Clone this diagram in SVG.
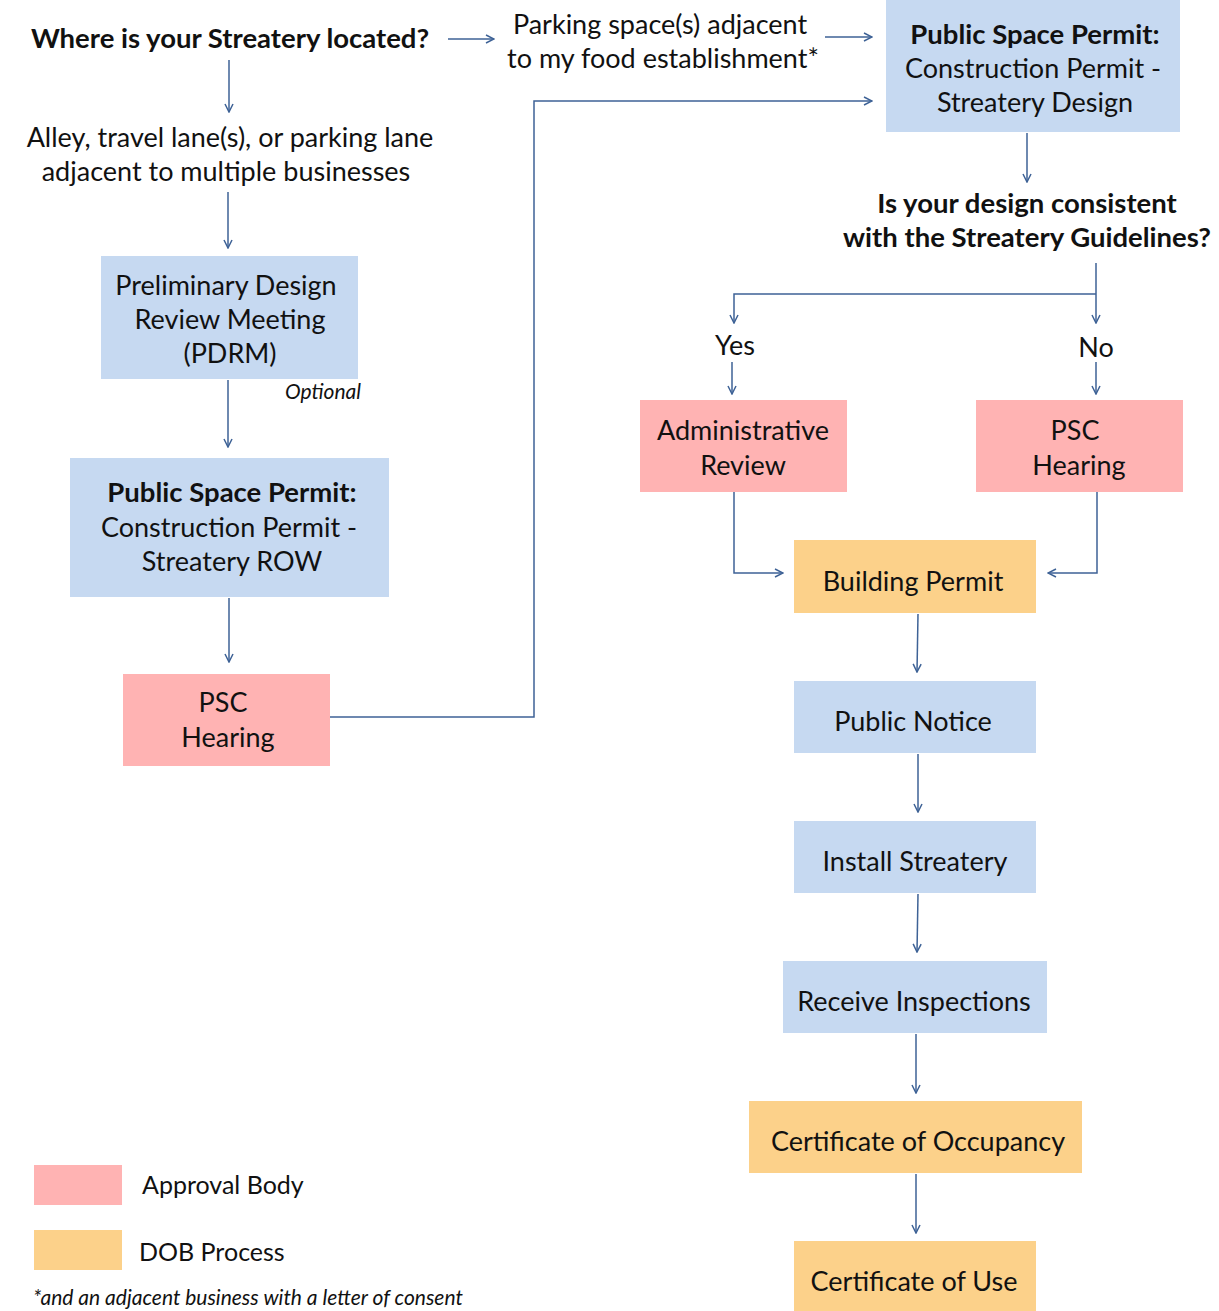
<svg xmlns="http://www.w3.org/2000/svg" width="1219" height="1311" viewBox="0 0 1219 1311">
<style>
text{font-family:Lato,"Noto Sans",sans-serif;font-size:27px;fill:#111;text-anchor:middle}
.b{font-weight:bold;font-size:27.5px}
.i{font-style:italic;font-size:21px}
.l{text-anchor:start}
.lg{font-size:25px}
.blue{fill:#C6D9F1}
.pink{fill:#FFB3B3}
.orange{fill:#FCD18A}
.c{fill:none;stroke:#3E6296;stroke-width:1.5}
</style>
<defs>
<marker id="a" viewBox="0 0 10 10" refX="9" refY="5" markerWidth="10" markerHeight="10" markerUnits="userSpaceOnUse" orient="auto">
<path d="M1,1 L9,5 L1,9" fill="none" stroke="#3E6296" stroke-width="1.5"/>
</marker>
</defs>
<rect width="1219" height="1311" fill="#fff"/>
<g id="connectors">
<path class="c" d="M448,39 H494" marker-end="url(#a)"/>
<path class="c" d="M825,37 H872" marker-end="url(#a)"/>
<path class="c" d="M330,717 H534 V101 H872" marker-end="url(#a)"/>
<path class="c" d="M229,60 V112" marker-end="url(#a)"/>
<path class="c" d="M228,192 V248" marker-end="url(#a)"/>
<path class="c" d="M228,380 V447" marker-end="url(#a)"/>
<path class="c" d="M229,598 V662" marker-end="url(#a)"/>
<path class="c" d="M1027,133 V182" marker-end="url(#a)"/>
<path class="c" d="M1096,263 V323" marker-end="url(#a)"/>
<path class="c" d="M1096,294 H734 V323" marker-end="url(#a)"/>
<path class="c" d="M732,362 V394" marker-end="url(#a)"/>
<path class="c" d="M1096,362 V394" marker-end="url(#a)"/>
<path class="c" d="M734,492 V573 H783" marker-end="url(#a)"/>
<path class="c" d="M1097,492 V573 H1048" marker-end="url(#a)"/>
<path class="c" d="M918,614 L917,672" marker-end="url(#a)"/>
<path class="c" d="M918,754 V812" marker-end="url(#a)"/>
<path class="c" d="M918,894 L917,952" marker-end="url(#a)"/>
<path class="c" d="M916,1034 V1093" marker-end="url(#a)"/>
<path class="c" d="M916,1174 V1233" marker-end="url(#a)"/>
</g>
<g id="q-location"><text class="b" x="230" y="48">Where is your Streatery located?</text></g>
<g id="parking"><text x="660" y="34">Parking space(s) adjacent</text><text x="663" y="68">to my food establishment*</text></g>
<g id="alley"><text x="230" y="147">Alley, travel lane(s), or parking lane</text><text x="226" y="181">adjacent to multiple businesses</text></g>
<g id="psp-design"><rect class="blue" x="886" y="0" width="294" height="132"/><text class="b" x="1035" y="44">Public Space Permit:</text><text x="1033" y="78">Construction Permit -</text><text x="1035" y="112">Streatery Design</text></g>
<g id="pdrm"><rect class="blue" x="101" y="256" width="257" height="123"/><text x="226" y="295">Preliminary Design</text><text x="230" y="329">Review Meeting</text><text x="230" y="363">(PDRM)</text></g>
<g id="optional"><text class="i l" x="285" y="399">Optional</text></g>
<g id="psp-row"><rect class="blue" x="70" y="458" width="319" height="139"/><text class="b" x="232" y="502">Public Space Permit:</text><text x="229" y="537">Construction Permit -</text><text x="232" y="571">Streatery ROW</text></g>
<g id="psc-left"><rect class="pink" x="123" y="674" width="207" height="92"/><text x="223" y="712">PSC</text><text x="228" y="747">Hearing</text></g>
<g id="q-guidelines"><text class="b" x="1027" y="213">Is your design consistent</text><text class="b" x="1027" y="247">with the Streatery Guidelines?</text></g>
<g id="yes"><text x="735" y="355">Yes</text></g>
<g id="no"><text x="1096" y="357">No</text></g>
<g id="admin"><rect class="pink" x="640" y="400" width="207" height="92"/><text x="743" y="440">Administrative</text><text x="743" y="475">Review</text></g>
<g id="psc-right"><rect class="pink" x="976" y="400" width="207" height="92"/><text x="1075" y="440">PSC</text><text x="1079" y="475">Hearing</text></g>
<g id="building"><rect class="orange" x="794" y="540" width="242" height="73"/><text x="913" y="591">Building Permit</text></g>
<g id="notice"><rect class="blue" x="794" y="681" width="242" height="72"/><text x="913" y="731">Public Notice</text></g>
<g id="install"><rect class="blue" x="794" y="821" width="242" height="72"/><text x="915" y="871">Install Streatery</text></g>
<g id="inspections"><rect class="blue" x="783" y="961" width="264" height="72"/><text x="914" y="1011">Receive Inspections</text></g>
<g id="occupancy"><rect class="orange" x="749" y="1101" width="333" height="72"/><text x="918" y="1151">Certificate of Occupancy</text></g>
<g id="use"><rect class="orange" x="794" y="1241" width="242" height="72"/><text x="914" y="1291">Certificate of Use</text></g>
<g id="legend">
<rect class="pink" x="34" y="1165" width="88" height="40"/><text class="l lg" x="142" y="1194">Approval Body</text>
<rect class="orange" x="34" y="1230" width="88" height="40"/><text class="l lg" x="139" y="1261">DOB Process</text>
<text class="i l" x="33" y="1305">*and an adjacent business with a letter of consent</text>
</g>
</svg>
